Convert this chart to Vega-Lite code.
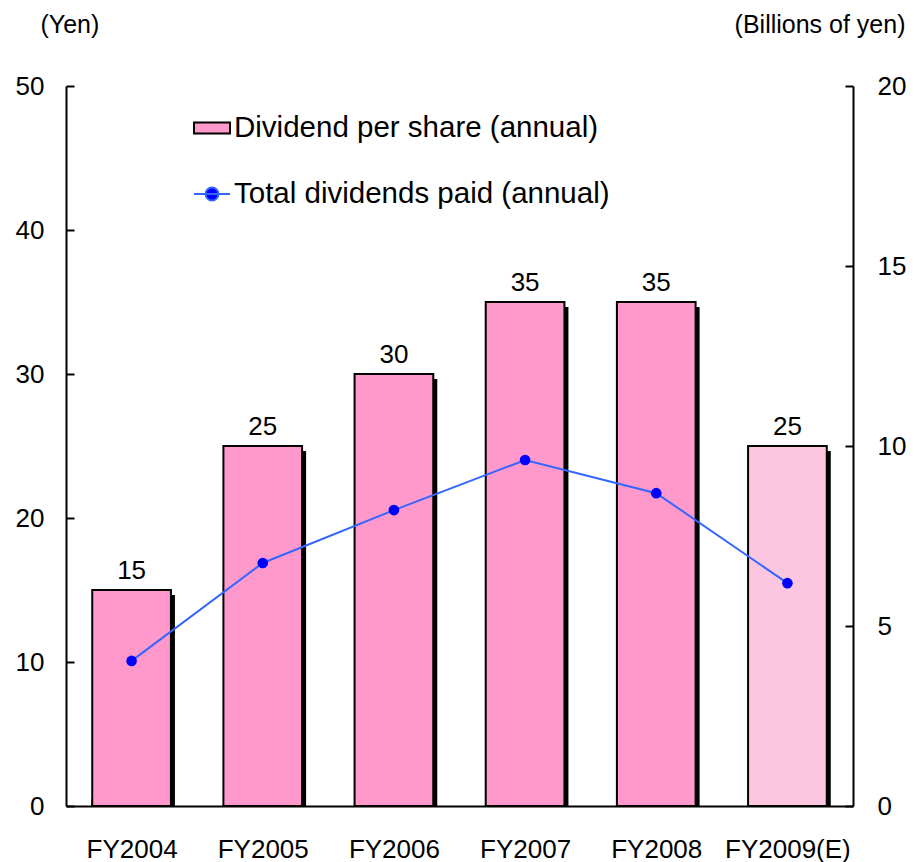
{
  "$schema": "https://vega.github.io/schema/vega-lite/v6.json",
  "width": 787,
  "height": 720,
  "autosize": {"type": "none"},
  "padding": {"left": 66, "top": 86, "right": 61, "bottom": 56},
  "background": "white",
  "config": {
    "font": "Liberation Sans",
    "view": {"stroke": null},
    "axis": {
      "grid": false,
      "domainColor": "black",
      "domainWidth": 2,
      "tickColor": "black",
      "tickWidth": 2,
      "labelColor": "black",
      "labelFontSize": 26,
      "labelFont": "Liberation Sans",
      "titleFontSize": 25,
      "titleFontWeight": "normal",
      "titleColor": "black",
      "titleFont": "Liberation Sans"
    },
    "legend": {
      "labelFont": "Liberation Sans",
      "labelFontSize": 29.5,
      "labelColor": "black",
      "labelLimit": 600,
      "padding": 0
    }
  },
  "data": {
    "values": [
      {"year": "FY2004", "dps": 15, "total": 4.03},
      {"year": "FY2005", "dps": 25, "total": 6.75},
      {"year": "FY2006", "dps": 30, "total": 8.22},
      {"year": "FY2007", "dps": 35, "total": 9.61},
      {"year": "FY2008", "dps": 35, "total": 8.69},
      {"year": "FY2009(E)", "dps": 25, "total": 6.19}
    ]
  },
  "encoding": {
    "x": {
      "field": "year",
      "type": "nominal",
      "sort": null,
      "scale": {"paddingInner": 0.4, "paddingOuter": 0.2},
      "axis": {
        "title": null,
        "labelAngle": 0,
        "tickBand": "extent",
        "tickSize": -8,
        "labelPadding": 38
      }
    }
  },
  "layer": [
    {
      "encoding": {
        "y": {
          "field": "dps",
          "type": "quantitative",
          "scale": {"domain": [0, 50]},
          "axis": {
            "values": [0, 10, 20, 30, 40, 50],
            "tickSize": -8,
            "labelPadding": 30,
            "title": "(Yen)",
            "titleAngle": 0,
            "titleX": -26,
            "titleY": -74,
            "titleAlign": "left",
            "titleBaseline": "top"
          }
        }
      },
      "layer": [
        {
          "mark": {"type": "bar", "color": "black", "xOffset": 4, "yOffset": 5, "clip": true}
        },
        {
          "mark": {"type": "bar", "stroke": "black", "strokeWidth": 2},
          "encoding": {
            "fill": {
              "condition": {"test": "datum.year === 'FY2009(E)'", "value": "#fcc6e0"},
              "datum": "Dividend per share (annual)",
              "scale": {"range": ["#ff99cc"]},
              "legend": {
                "title": null,
                "orient": "none",
                "legendX": 127,
                "legendY": 23,
                "symbolType": "M-1,-0.3H1V0.3H-1Z",
                "symbolSize": 1296,
                "symbolStrokeColor": "black",
                "symbolStrokeWidth": 2,
                "labelOffset": 3,
                "encode": {"symbols": {"update": {"stroke": {"value": "black"}, "strokeWidth": {"value": 2}, "fill": {"value": "#ff99cc"}}}}
              }
            }
          }
        },
        {
          "mark": {"type": "text", "fontSize": 26, "baseline": "alphabetic", "dy": -11, "color": "black"},
          "encoding": {"text": {"field": "dps", "type": "quantitative"}}
        }
      ]
    },
    {
      "encoding": {
        "y": {
          "field": "total",
          "type": "quantitative",
          "scale": {"domain": [0, 20]},
          "axis": {
            "orient": "right",
            "values": [0, 5, 10, 15, 20],
            "tickSize": -8,
            "labelPadding": 32,
            "title": "(Billions of yen)",
            "titleAngle": 0,
            "titleX": 52,
            "titleY": -74,
            "titleAlign": "right",
            "titleBaseline": "top"
          }
        }
      },
      "layer": [
        {
          "mark": {"type": "line", "strokeWidth": 2},
          "encoding": {
            "stroke": {
              "datum": "Total dividends paid (annual)",
              "scale": {"range": ["#3366ff"]},
              "legend": {
                "title": null,
                "orient": "none",
                "legendX": 127,
                "legendY": 89,
                "symbolType": "M-1,0H1M0.36,0A0.36,0.36 0 1 1 -0.36,0A0.36,0.36 0 1 1 0.36,0Z",
                "symbolSize": 1296,
                "symbolStrokeWidth": 2,
                "labelOffset": 3,
                "encode": {"symbols": {"update": {"stroke": {"value": "#3366ff"}, "strokeWidth": {"value": 2}, "fill": {"value": "#0000ff"}}}}
              }
            }
          }
        },
        {
          "mark": {"type": "point", "filled": true, "color": "#0000ff", "size": 113, "opacity": 1}
        }
      ]
    }
  ],
  "resolve": {"scale": {"y": "independent", "fill": "independent", "stroke": "independent"}}
}
